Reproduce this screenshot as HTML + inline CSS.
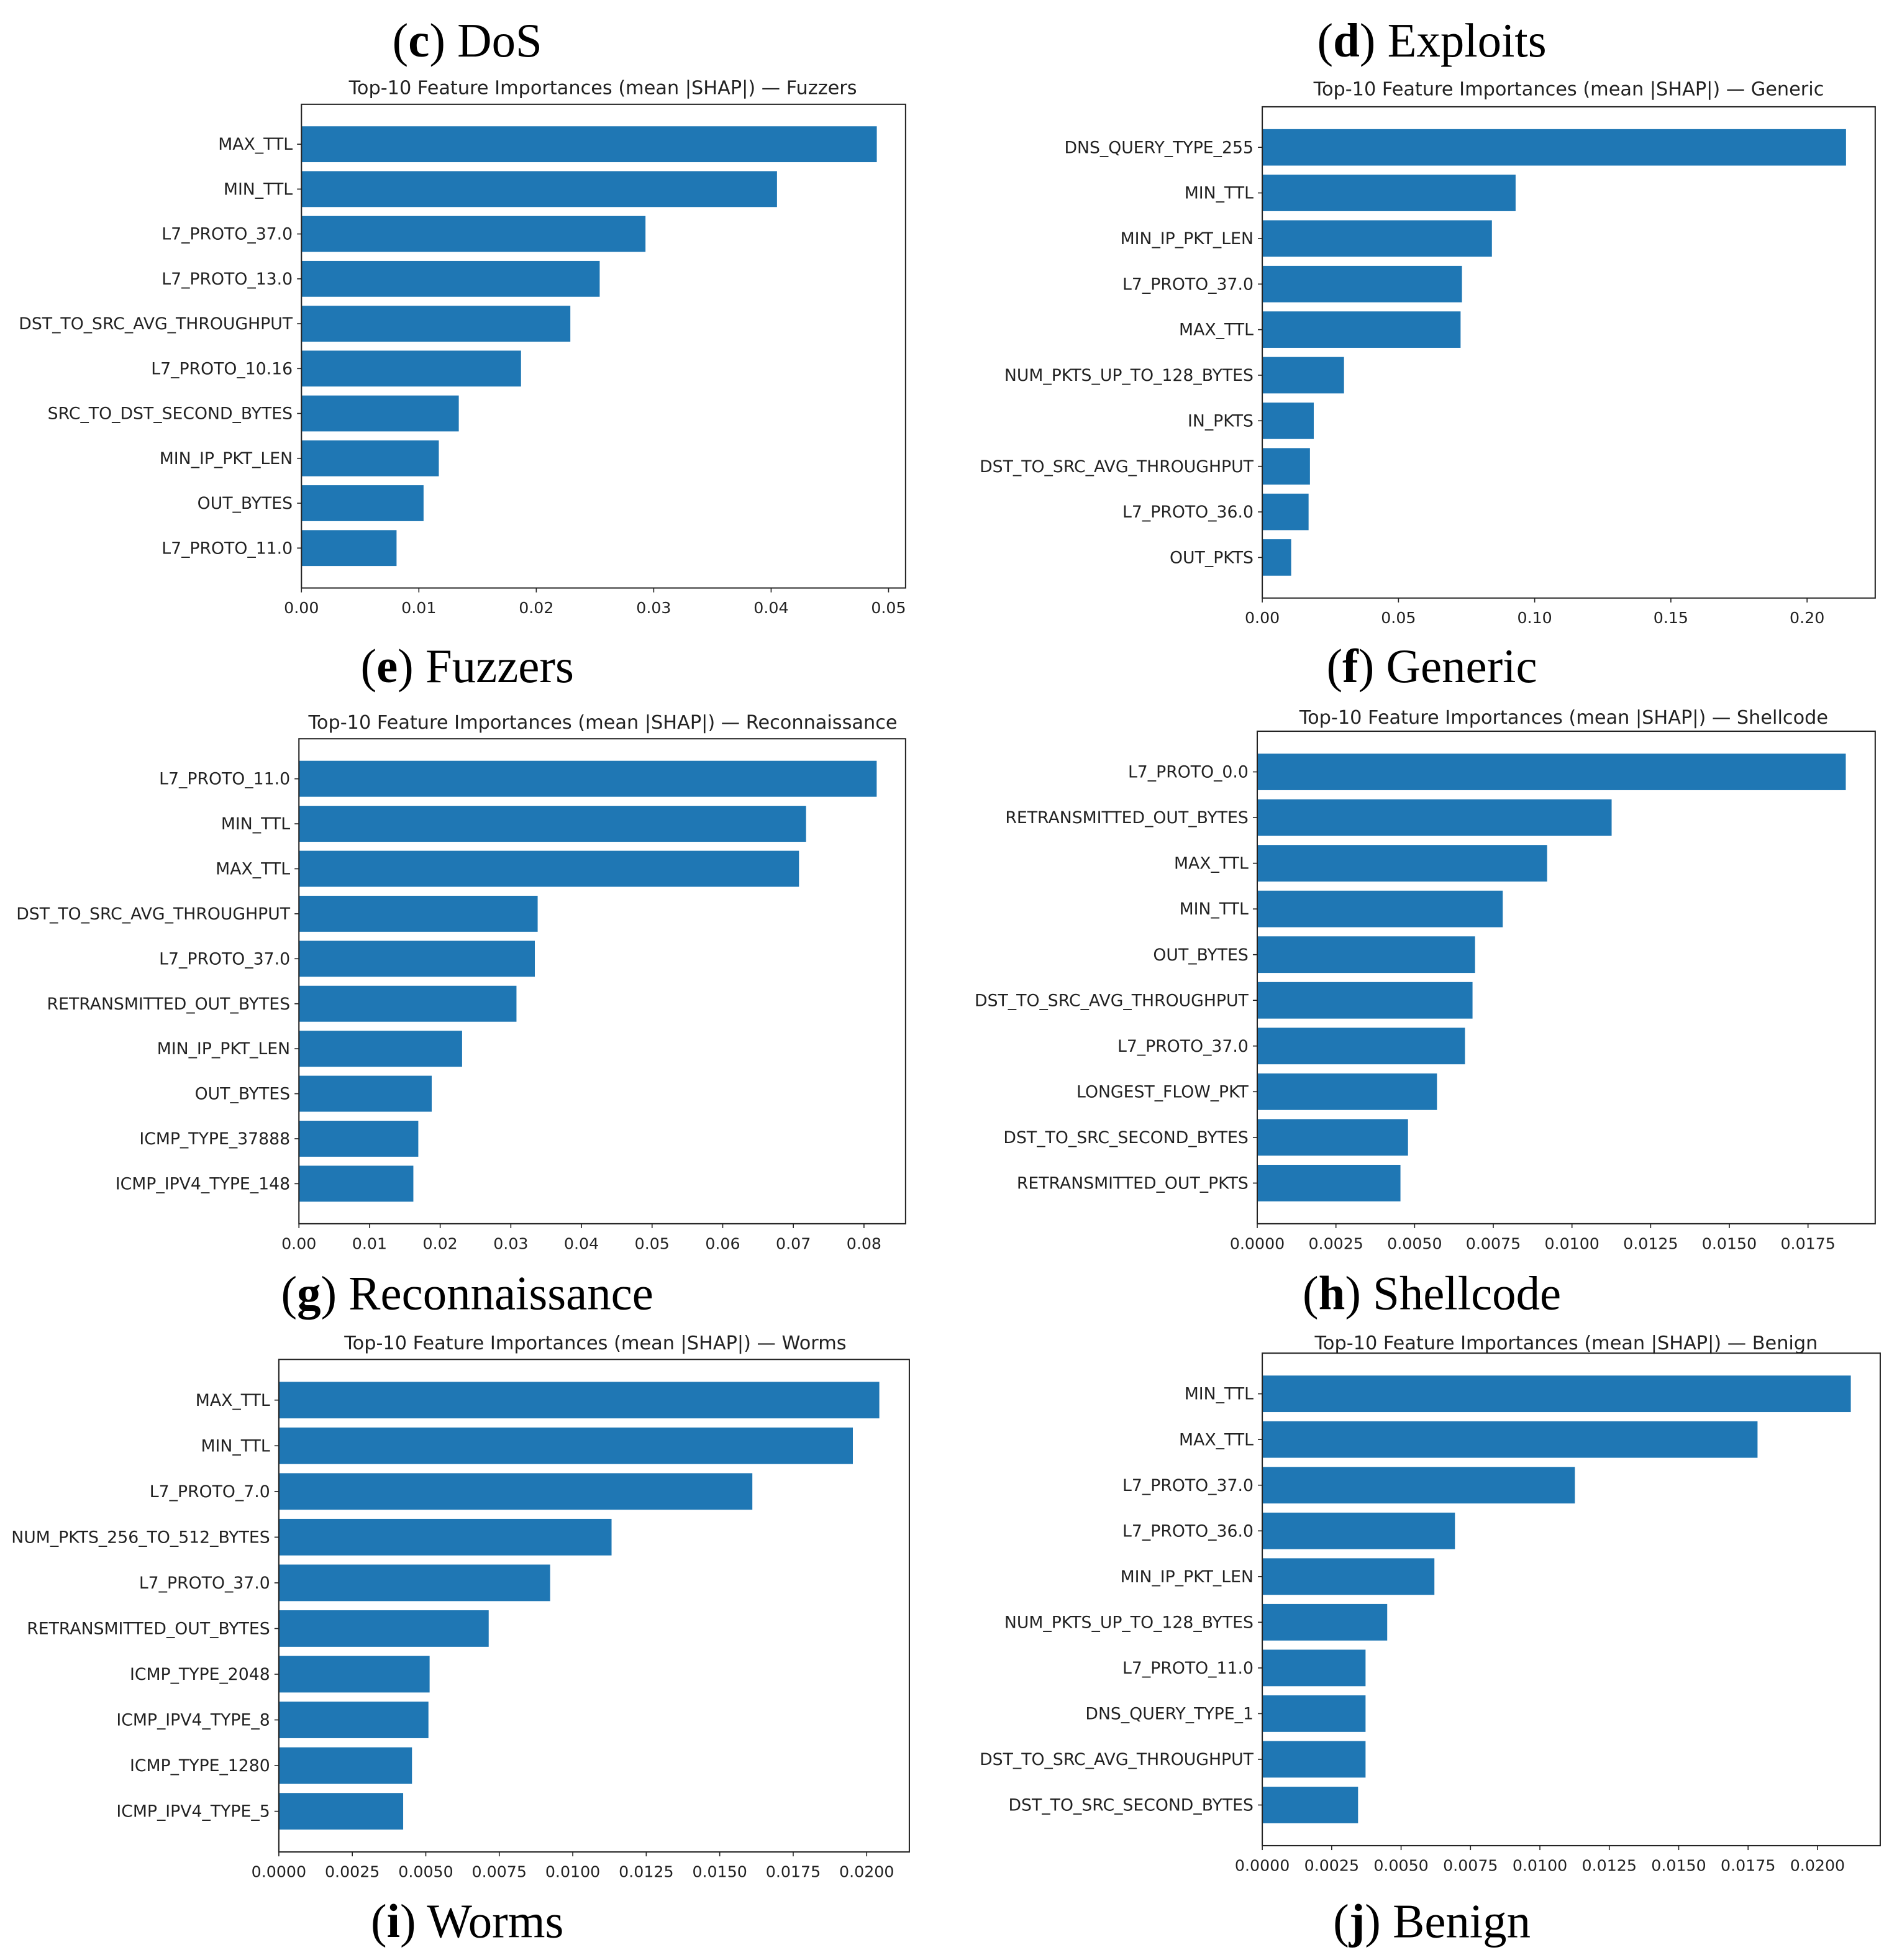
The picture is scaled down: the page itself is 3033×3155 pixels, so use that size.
<!DOCTYPE html>
<html><head><meta charset="utf-8"><style>
html,body{margin:0;padding:0;background:#fff;}
svg{display:block;}
.lbl{font-family:"DejaVu Sans","Liberation Sans",sans-serif;font-size:13.2px;fill:#222;}
.tck{font-family:"DejaVu Sans","Liberation Sans",sans-serif;font-size:12.5px;fill:#222;}
.ttl{font-family:"DejaVu Sans","Liberation Sans",sans-serif;font-size:15px;fill:#222;}
.cap{font-family:"Liberation Serif",serif;font-size:38px;fill:#000;}
</style></head><body>
<svg id="fig" width="3033" height="3155" viewBox="0 0 1500 1560" preserveAspectRatio="none" xmlns="http://www.w3.org/2000/svg">
<g>
<text class="cap" x="372" y="45" text-anchor="middle">(<tspan font-weight="bold">c</tspan>) DoS</text>
<text class="cap" x="1140" y="45" text-anchor="middle">(<tspan font-weight="bold">d</tspan>) Exploits</text>
<text class="cap" x="372" y="543" text-anchor="middle">(<tspan font-weight="bold">e</tspan>) Fuzzers</text>
<text class="cap" x="1140" y="543" text-anchor="middle">(<tspan font-weight="bold">f</tspan>) Generic</text>
<text class="cap" x="372" y="1042" text-anchor="middle">(<tspan font-weight="bold">g</tspan>) Reconnaissance</text>
<text class="cap" x="1140" y="1042" text-anchor="middle">(<tspan font-weight="bold">h</tspan>) Shellcode</text>
<text class="cap" x="372" y="1542" text-anchor="middle">(<tspan font-weight="bold">i</tspan>) Worms</text>
<text class="cap" x="1140" y="1542" text-anchor="middle">(<tspan font-weight="bold">j</tspan>) Benign</text>
</g>
</svg>
<script>
// ---- data ----
const fuzzersFeatures = ["MAX_TTL","MIN_TTL","L7_PROTO_37.0","L7_PROTO_13.0","DST_TO_SRC_AVG_THROUGHPUT","L7_PROTO_10.16","SRC_TO_DST_SECOND_BYTES","MIN_IP_PKT_LEN","OUT_BYTES","L7_PROTO_11.0"];
const fuzzersValues = [0.0490,0.0405,0.0293,0.0254,0.0229,0.0187,0.0134,0.0117,0.0104,0.0081];
const fuzzersTicks = [0,0.01,0.02,0.03,0.04,0.05];
const fuzzersTickLabels = ["0.00","0.01","0.02","0.03","0.04","0.05"];

const genericFeatures = ["DNS_QUERY_TYPE_255","MIN_TTL","MIN_IP_PKT_LEN","L7_PROTO_37.0","MAX_TTL","NUM_PKTS_UP_TO_128_BYTES","IN_PKTS","DST_TO_SRC_AVG_THROUGHPUT","L7_PROTO_36.0","OUT_PKTS"];
const genericValues = [0.2143,0.0930,0.0843,0.0733,0.0728,0.0300,0.0189,0.0175,0.0170,0.0106];
const genericTicks = [0,0.05,0.10,0.15,0.20];
const genericTickLabels = ["0.00","0.05","0.10","0.15","0.20"];

const reconFeatures = ["L7_PROTO_11.0","MIN_TTL","MAX_TTL","DST_TO_SRC_AVG_THROUGHPUT","L7_PROTO_37.0","RETRANSMITTED_OUT_BYTES","MIN_IP_PKT_LEN","OUT_BYTES","ICMP_TYPE_37888","ICMP_IPV4_TYPE_148"];
const reconValues = [0.0818,0.0718,0.0708,0.0338,0.0334,0.0308,0.0231,0.0188,0.0169,0.0162];
const reconTicks = [0,0.01,0.02,0.03,0.04,0.05,0.06,0.07,0.08];
const reconTickLabels = ["0.00","0.01","0.02","0.03","0.04","0.05","0.06","0.07","0.08"];

const shellFeatures = ["L7_PROTO_0.0","RETRANSMITTED_OUT_BYTES","MAX_TTL","MIN_TTL","OUT_BYTES","DST_TO_SRC_AVG_THROUGHPUT","L7_PROTO_37.0","LONGEST_FLOW_PKT","DST_TO_SRC_SECOND_BYTES","RETRANSMITTED_OUT_PKTS"];
const shellValues = [0.0187,0.01126,0.00921,0.0078,0.00692,0.00684,0.0066,0.00571,0.00479,0.00455];
const shellTicks = [0,0.0025,0.005,0.0075,0.01,0.0125,0.015,0.0175];
const shellTickLabels = ["0.0000","0.0025","0.0050","0.0075","0.0100","0.0125","0.0150","0.0175"];

const wormsFeatures = ["MAX_TTL","MIN_TTL","L7_PROTO_7.0","NUM_PKTS_256_TO_512_BYTES","L7_PROTO_37.0","RETRANSMITTED_OUT_BYTES","ICMP_TYPE_2048","ICMP_IPV4_TYPE_8","ICMP_TYPE_1280","ICMP_IPV4_TYPE_5"];
const wormsValues = [0.02043,0.01953,0.01611,0.01132,0.00923,0.00714,0.00513,0.00509,0.00453,0.00423];
const wormsTicks = [0,0.0025,0.005,0.0075,0.01,0.0125,0.015,0.0175,0.02];
const wormsTickLabels = ["0.0000","0.0025","0.0050","0.0075","0.0100","0.0125","0.0150","0.0175","0.0200"];

const benignFeatures = ["MIN_TTL","MAX_TTL","L7_PROTO_37.0","L7_PROTO_36.0","MIN_IP_PKT_LEN","NUM_PKTS_UP_TO_128_BYTES","L7_PROTO_11.0","DNS_QUERY_TYPE_1","DST_TO_SRC_AVG_THROUGHPUT","DST_TO_SRC_SECOND_BYTES"];
const benignValues = [0.0212,0.01784,0.01126,0.00694,0.0062,0.0045,0.00372,0.00372,0.00372,0.00345];
const benignTicks = [0,0.0025,0.005,0.0075,0.01,0.0125,0.015,0.0175,0.02];
const benignTickLabels = ["0.0000","0.0025","0.0050","0.0075","0.0100","0.0125","0.0150","0.0175","0.0200"];

// ---- layout ----
const NS = "http://www.w3.org/2000/svg";
const svg = document.getElementById('fig');
function mk(tag, attrs, parent){const e=document.createElementNS(NS,tag);for(const k in attrs)e.setAttribute(k,attrs[k]);parent.appendChild(e);return e;}

function drawPanel(key, title, feats, vals, ticks, tickLabels, L, R, T, B, titleX, titleY){
  const g = mk('g',{},svg);
  
  
  const n = vals.length;
  const maxV = Math.max(...vals);
  const xMax = maxV * 1.05;
  const xs = v => L + (v / xMax) * (R - L);
  const span = (n - 1 + 0.8) * 1.1;
  const ys = i => T + (B - T) * ((n - 1 + 0.8) * 0.05 + 0.4 + i) / span;
  const bh = 0.8 * (B - T) / span;
  feats.forEach((f, i) => {
    const r = mk('rect',{x:L, y:ys(i)-bh/2, width:Math.max(0,xs(vals[i])-L), height:bh, fill:'#1f77b4'}, g);
    
    
    mk('line',{x1:L-3.5,x2:L,y1:ys(i),y2:ys(i),stroke:'#222','stroke-width':0.8},g);
    const t = mk('text',{x:L-7,y:ys(i)+4.5,'text-anchor':'end',class:'lbl'},g);
    t.textContent = f;
    
    
  });
  ticks.forEach((tv, i) => {
    const x = xs(tv);
    mk('line',{x1:x,x2:x,y1:B,y2:B+3.5,stroke:'#222','stroke-width':0.8},g);
    const t = mk('text',{x:x,y:B+20,'text-anchor':'middle',class:'tck'},g);
    t.textContent = tickLabels[i];
    
    
  });
  const fr = mk('rect',{x:L,y:T,width:R-L,height:B-T,fill:'none',stroke:'#222','stroke-width':1},g);
  
  
  const tt = mk('text',{x:titleX,y:titleY,'text-anchor':'middle',class:'ttl'},g);
  tt.textContent = title;
  
  
}

drawPanel('fuzzers','Top-10 Feature Importances (mean |SHAP|) — Fuzzers',fuzzersFeatures,fuzzersValues,fuzzersTicks,fuzzersTickLabels,240,721,83,468,480,75);
drawPanel('generic','Top-10 Feature Importances (mean |SHAP|) — Generic',genericFeatures,genericValues,genericTicks,genericTickLabels,1005,1493,85,476,1249,76);
drawPanel('recon','Top-10 Feature Importances (mean |SHAP|) — Reconnaissance',reconFeatures,reconValues,reconTicks,reconTickLabels,238,721,588,974,480,580);
drawPanel('shellcode','Top-10 Feature Importances (mean |SHAP|) — Shellcode',shellFeatures,shellValues,shellTicks,shellTickLabels,1001,1493,582,974,1245,576);
drawPanel('worms','Top-10 Feature Importances (mean |SHAP|) — Worms',wormsFeatures,wormsValues,wormsTicks,wormsTickLabels,222,724,1082,1474,474,1074);
drawPanel('benign','Top-10 Feature Importances (mean |SHAP|) — Benign',benignFeatures,benignValues,benignTicks,benignTickLabels,1005,1497,1077,1469,1247,1074);
</script>
</body></html>
